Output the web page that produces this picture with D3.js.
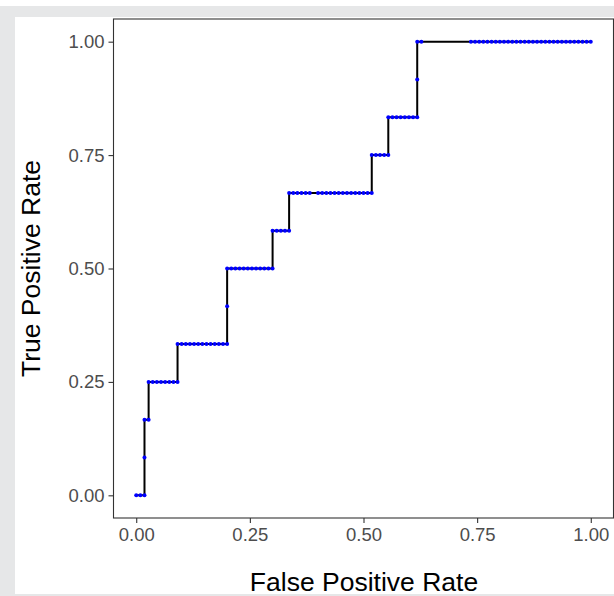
<!DOCTYPE html>
<html>
<head>
<meta charset="utf-8">
<script src="https://cdn.jsdelivr.net/npm/d3@7"></script>
<style>
  body { margin: 0; background: #fff; }
  svg { display: block; font-family: "Liberation Sans", Arial, sans-serif; }
</style>
</head>
<body>
<div id="chart"></div>
<script>
// ROC points as counts: false positives (of nNeg) and true positives (of nPos)
const nNeg = 110;
const nPos = 12;
const fpCounts = [0, 1, 2, 2, 2, 3,
  3, 4, 5, 6, 7, 8, 9, 10,
  10, 11, 12, 13, 14, 15, 16, 17, 18, 19, 20, 21, 22,
  22,
  22, 23, 24, 25, 26, 27, 28, 29, 30, 31, 32, 33,
  33, 34, 35, 36, 37,
  37, 38, 39, 40, 41, 42, 44, 45, 46, 47, 48, 49, 50, 51, 52, 53, 54, 55, 56, 57,
  57, 58, 59, 60, 61,
  61, 62, 63, 64, 65, 66, 67, 68,
  68,
  68, 69, 81, 82, 83, 84, 85, 86, 87, 88, 89, 90, 91, 92, 93, 94, 95, 96, 97, 98,
  99, 100, 101, 102, 103, 104, 105, 106, 107, 108, 109, 110];
const tpCounts = [0, 0, 0, 1, 2, 2,
  3, 3, 3, 3, 3, 3, 3, 3,
  4, 4, 4, 4, 4, 4, 4, 4, 4, 4, 4, 4, 4,
  5,
  6, 6, 6, 6, 6, 6, 6, 6, 6, 6, 6, 6,
  7, 7, 7, 7, 7,
  8, 8, 8, 8, 8, 8, 8, 8, 8, 8, 8, 8, 8, 8, 8, 8, 8, 8, 8, 8,
  9, 9, 9, 9, 9,
  10, 10, 10, 10, 10, 10, 10, 10,
  11,
  12, 12, 12, 12, 12, 12, 12, 12, 12, 12, 12, 12, 12, 12, 12, 12, 12, 12, 12, 12,
  12, 12, 12, 12, 12, 12, 12, 12, 12, 12, 12, 12];
const tickValues = [0, 0.25, 0.5, 0.75, 1];

const rocData = fpCounts.map((fp, i) => ({ fpr: fp / nNeg, tpr: tpCounts[i] / nPos }));

const W = 614, H = 596;
const panel = { left: 113.5, top: 19, right: 613.5, bottom: 518 };

const svg = d3.select("#chart").append("svg")
    .attr("width", W)
    .attr("height", H);

// viewer frame
svg.append("rect").attr("x", 0).attr("y", 0).attr("width", W).attr("height", H).attr("fill", "#e6e7e8");
svg.append("rect").attr("x", 0).attr("y", 0).attr("width", W).attr("height", 6).attr("fill", "#ffffff");
svg.append("rect").attr("x", 15).attr("y", 17).attr("width", W - 15).attr("height", 594 - 17).attr("fill", "#ffffff");

// ggplot style 5% expansion
const pad = (panel.right - panel.left) / 1.1 * 0.05;
const x = d3.scaleLinear().domain([0, 1]).range([panel.left + pad, panel.right - pad]);
const padY = (panel.bottom - panel.top) / 1.1 * 0.05;
const y = d3.scaleLinear().domain([0, 1]).range([panel.bottom - padY, panel.top + padY]);

const xAxis = d3.axisBottom(x).tickValues(tickValues).tickFormat(d3.format(".2f")).tickSize(5).tickPadding(5);
const yAxis = d3.axisLeft(y).tickValues(tickValues).tickFormat(d3.format(".2f")).tickSize(5).tickPadding(4);

const xg = svg.append("g").attr("transform", `translate(0,${panel.bottom})`).call(xAxis);
const yg = svg.append("g").attr("transform", `translate(${panel.left},0)`).call(yAxis);
[xg, yg].forEach(g => {
  g.select(".domain").remove();
  g.selectAll(".tick line").attr("stroke", "#333333").attr("stroke-width", 1.1);
  g.selectAll(".tick text").attr("fill", "#4d4d4d").style("font-size", "18.5px");
});

// curve
const line = d3.line().x(d => x(d.fpr)).y(d => y(d.tpr));
svg.append("path")
    .datum(rocData)
    .attr("fill", "none")
    .attr("stroke", "#000")
    .attr("stroke-width", 2)
    .attr("d", line);

svg.selectAll(".pt")
  .data(rocData)
  .enter()
  .append("circle")
    .attr("class", "pt")
    .attr("cx", d => x(d.fpr))
    .attr("cy", d => y(d.tpr))
    .attr("r", 2)
    .attr("fill", "#0000ff");

// panel border
svg.append("rect")
    .attr("x", panel.left).attr("y", panel.top)
    .attr("width", panel.right - panel.left).attr("height", panel.bottom - panel.top)
    .attr("fill", "none").attr("stroke", "#333333").attr("stroke-width", 1.1);

// axis titles
svg.append("text")
    .attr("x", 364)
    .attr("y", 591)
    .attr("text-anchor", "middle")
    .style("font-size", "26.5px")
    .text("False Positive Rate");

svg.append("text")
    .attr("transform", `translate(40,${y(0.5)}) rotate(-90)`)
    .attr("text-anchor", "middle")
    .style("font-size", "26.5px")
    .text("True Positive Rate");
</script>
</body>
</html>
